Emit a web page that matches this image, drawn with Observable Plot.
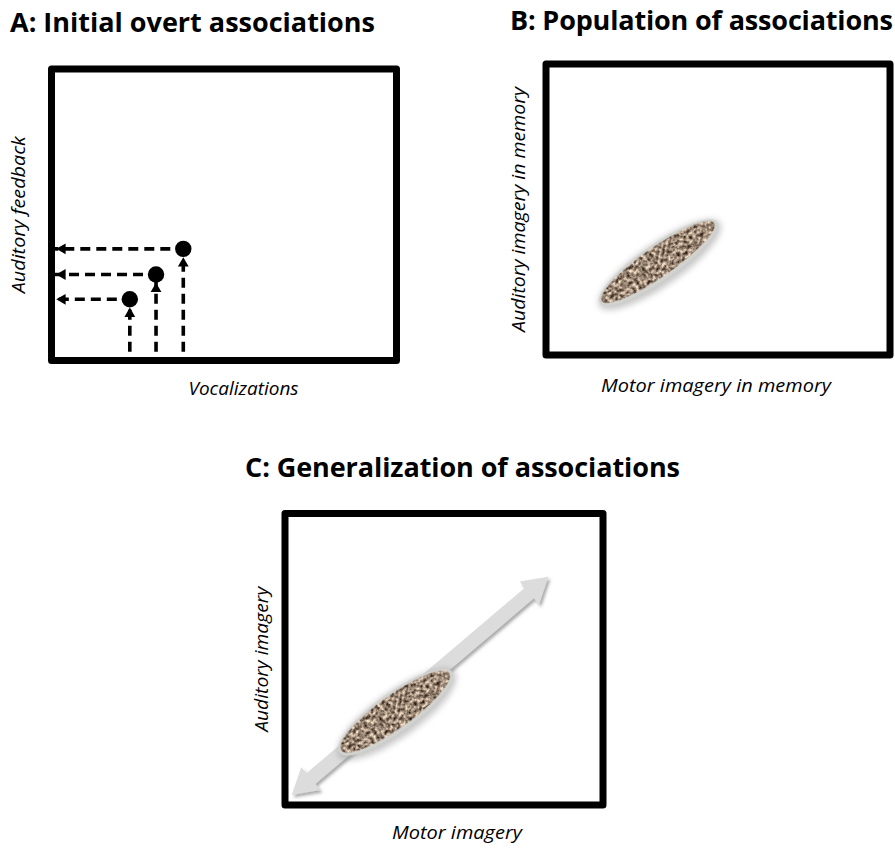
<!DOCTYPE html>
<html><head><meta charset="utf-8">
<script src="https://cdn.jsdelivr.net/npm/d3@7"></script>
<script src="https://cdn.jsdelivr.net/npm/@observablehq/plot@0.6"></script>
<style>
body{margin:0;background:#fff;}
#root{position:relative;width:895px;height:848px;overflow:hidden;font-family:"Open Sans",sans-serif;background:#fff;}
.title{position:absolute;font-weight:700;font-size:27px;white-space:nowrap;line-height:27px;color:#000;font-family:"Open Sans",sans-serif;}
.panel{position:absolute;}
</style></head><body><div id="root"></div>
<script>
// ---- content ----
const titles = ["A: Initial overt associations", "B: Population of associations", "C: Generalization of associations"];
const xLabels = ["Vocalizations", "Motor imagery in memory", "Motor imagery"];
const yLabels = ["Auditory feedback", "Auditory imagery in memory", "Auditory imagery"];

// ---- data (abstract 0..10 coordinates inside each frame) ----
const dotsX = [2.27, 3.03, 3.82];
const dotsY = [2.10, 2.95, 3.83];
const dashStartY = 0.3;           // where the upward dashed lines start
const ellipseB = [{x1: 1.58, y1: 1.76, x2: 4.98, y2: 4.56}];
const ellipseC = [{x1: 1.72, y1: 1.78, x2: 5.26, y2: 4.56}];
const arrowC   = [{x1: 0.23, y1: 0.33, x2: 8.30, y2: 7.81}];

const dotsA = dotsX.map((x, i) => ({x, y: dotsY[i]}));

// ---- styles / layout ----
const titleWidths = [365, 383, 435];
const xLabelWidths = [110, 230, 130];
const yLabelWidths = [157, 245, 145];

const root = document.getElementById("root");
const FONT = "'Open Sans', sans-serif";

function addTitle(text, left, top, width) {
  const d = document.createElement("div");
  d.className = "title";
  d.textContent = text;
  d.style.left = left + "px";
  d.style.top = top + "px";
  root.appendChild(d);
  const w = d.getBoundingClientRect().width;
  d.style.letterSpacing = ((width - w) / (text.length - 1)) + "px";
}
function place(svg, left, top, xw, yw) {
  svg.classList.add("panel");
  svg.style.left = left + "px";
  svg.style.top = top + "px";
  root.appendChild(svg);
  const texts = d3.select(svg).selectAll('g[aria-label="text"] text').nodes();
  if (texts[0]) { texts[0].setAttribute("textLength", xw); texts[0].setAttribute("lengthAdjust", "spacingAndGlyphs"); }
  if (texts[1]) { texts[1].setAttribute("textLength", yw); texts[1].setAttribute("lengthAdjust", "spacingAndGlyphs"); }
}
function addDefs(svg, html) {
  d3.select(svg).insert("defs", ":first-child").html(html);
}
const textureFilter = (id) => `
<filter id="${id}" x="0" y="0" width="1" height="1" color-interpolation-filters="sRGB">
  <feTurbulence type="fractalNoise" baseFrequency="0.3" numOctaves="3" seed="11" result="n"/>
  <feColorMatrix in="n" type="matrix" values="1.6 0 0 0 -0.2  1.55 0 0 0 -0.25  1.45 0 0 0 -0.27  0 0 0 0 1" result="c"/>
  <feGaussianBlur in="c" stdDeviation="0.6" result="b"/>
  <feComposite in="b" in2="SourceGraphic" operator="in"/>
</filter>
<filter id="${id}-glow" x="-30%" y="-80%" width="160%" height="260%">
  <feGaussianBlur stdDeviation="3.2"/>
</filter>
<filter id="${id}-soft" x="-10%" y="-30%" width="120%" height="160%">
  <feGaussianBlur stdDeviation="0.7"/>
</filter>
<filter id="${id}-shadow" x="-20%" y="-20%" width="140%" height="140%">
  <feDropShadow dx="2" dy="2.5" stdDeviation="1.8" flood-color="#555" flood-opacity="0.5"/>
</filter>`;

// ellipse drawn between two tip points (data), thickness in px as style
function ellipseMark(data, {id, ry}) {
  return Plot.link(data, {
    x1: "x1", y1: "y1", x2: "x2", y2: "y2",
    render(index, scales, values) {
      const g = d3.create("svg:g");
      for (const i of index) {
        const ax = values.x1[i], ay = values.y1[i], bx = values.x2[i], by = values.y2[i];
        const cx = (ax + bx) / 2, cy = (ay + by) / 2;
        const rx = Math.hypot(bx - ax, by - ay) / 2;
        const ang = Math.atan2(by - ay, bx - ax) * 180 / Math.PI;
        const e = g.append("g").attr("transform", `translate(${cx},${cy}) rotate(${ang})`);
        e.append("ellipse").attr("rx", rx + 2).attr("ry", ry + 3).attr("cy", 2.5)
          .attr("fill", "#8f8f8f").attr("opacity", 0.5).attr("filter", `url(#${id}-glow)`);
        e.append("ellipse").attr("rx", rx).attr("ry", ry).attr("fill", "#d2d2cf").attr("filter", `url(#${id}-soft)`);
        e.append("ellipse").attr("rx", rx - 3).attr("ry", ry - 3.2).attr("cy", -0.6).attr("fill", "#8f806f")
          .attr("filter", `url(#${id})`);
      }
      return g.node();
    }
  });
}

// double-headed block arrow between two tips (data)
function blockArrow(data, {id, head = 25, headHalf = 15, shaftHalf = 7}) {
  return Plot.link(data, {
    x1: "x1", y1: "y1", x2: "x2", y2: "y2",
    render(index, scales, values) {
      const g = d3.create("svg:g");
      for (const i of index) {
        const A = [values.x1[i], values.y1[i]], B = [values.x2[i], values.y2[i]];
        const L = Math.hypot(B[0] - A[0], B[1] - A[1]);
        const u = [(B[0] - A[0]) / L, (B[1] - A[1]) / L], n = [-u[1], u[0]];
        const p = (P, a, b) => [P[0] + u[0] * a + n[0] * b, P[1] + u[1] * a + n[1] * b];
        const pts = [B, p(B, -head, headHalf), p(B, -head, shaftHalf), p(A, head, shaftHalf), p(A, head, headHalf),
                     A, p(A, head, -headHalf), p(A, head, -shaftHalf), p(B, -head, -shaftHalf), p(B, -head, -headHalf)];
        g.append("polygon").attr("points", pts.map(q => q.join(",")).join(" "))
          .attr("fill", "#dcdcdc").attr("filter", `url(#${id}-shadow)`);
      }
      return g.node();
    }
  });
}

const labelStyle = {fontSize: 18, fontStyle: "italic", fontFamily: FONT, fill: "black", textAnchor: "middle", lineAnchor: "middle"};
const frameStyle = {stroke: "black", strokeWidth: 7, strokeLinejoin: "round"};
const dashStyle = {stroke: "black", strokeWidth: 3.6, strokeDasharray: "10,6"};
const scales = {x: {domain: [0, 10], axis: null}, y: {domain: [0, 10], axis: null}};

// ---------- Panel A ----------
const plotA = Plot.plot({
  width: 420, height: 380, marginLeft: 51, marginRight: 24, marginTop: 28.5, marginBottom: 60,
  ...scales,
  style: {background: "transparent", overflow: "visible"},
  marks: [
    Plot.link(dotsA, {x1: "x", x2: "x", y1: () => dashStartY, y2: "y", ...dashStyle}),
    Plot.link(dotsA, {x1: "x", x2: () => 0, y1: "y", y2: "y", ...dashStyle, strokeDashoffset: 3}),
    Plot.dot(dotsA, {x: "x", y: "y", symbol: "triangle", r: 4, fill: "black", stroke: "none", dy: 14.5}),
    Plot.dot(dotsA, {x: () => 0, y: "y", symbol: "triangle", rotate: -90, r: 4, fill: "black", stroke: "none", dx: 11}),
    Plot.dot(dotsA, {x: "x", y: "y", r: 8.2, fill: "black", stroke: "none"}),
    Plot.frame(frameStyle),
    Plot.text([xLabels[0]], {text: d => d, frameAnchor: "bottom", dx: 19.5, dy: 29, ...labelStyle}),
    Plot.text([yLabels[0]], {text: d => d, frameAnchor: "left", dx: -32, rotate: -90, ...labelStyle})
  ]
});
place(plotA, 0, 40, xLabelWidths[0], yLabelWidths[0]);

// ---------- Panel B ----------
const plotB = Plot.plot({
  width: 415, height: 380, marginLeft: 65.5, marginRight: 5.5, marginTop: 23.5, marginBottom: 65.5,
  ...scales,
  style: {background: "transparent", overflow: "visible"},
  marks: [
    ellipseMark(ellipseB, {id: "texB", ry: 18}),
    Plot.frame(frameStyle),
    Plot.text([xLabels[1]], {text: d => d, frameAnchor: "bottom", dx: -2, dy: 31.5, ...labelStyle}),
    Plot.text([yLabels[1]], {text: d => d, frameAnchor: "left", dx: -27, rotate: -90, ...labelStyle})
  ]
});
addDefs(plotB, textureFilter("texB"));
place(plotB, 480, 40, xLabelWidths[1], yLabelWidths[1]);

// ---------- Panel C ----------
const plotC = Plot.plot({
  width: 420, height: 358, marginLeft: 64.5, marginRight: 37.5, marginTop: 23, marginBottom: 43.5,
  ...scales,
  style: {background: "transparent", overflow: "visible"},
  marks: [
    blockArrow(arrowC, {id: "texC"}),
    ellipseMark(ellipseC, {id: "texC", ry: 19.5}),
    Plot.frame(frameStyle),
    Plot.text([xLabels[2]], {text: d => d, frameAnchor: "bottom", dx: 13, dy: 28.5, ...labelStyle}),
    Plot.text([yLabels[2]], {text: d => d, frameAnchor: "left", dx: -22.5, rotate: -90, ...labelStyle})
  ]
});
addDefs(plotC, textureFilter("texC"));
place(plotC, 220, 490, xLabelWidths[2], yLabelWidths[2]);

// ---------- Titles ----------
addTitle(titles[0], 10, 8, titleWidths[0]);
addTitle(titles[1], 510, 6, titleWidths[1]);
addTitle(titles[2], 245, 453, titleWidths[2]);
</script>
</body></html>
